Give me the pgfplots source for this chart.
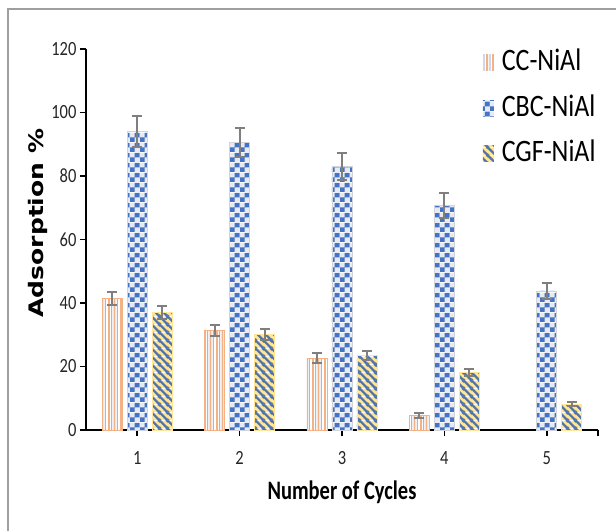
\documentclass[border=0pt]{standalone}
\usepackage{fontspec}
\setmainfont{Carlito}
\newfontfamily\dejavu{DejaVu Sans}
\usepackage{graphicx}
\usepackage{pgfplots}
\pgfplotsset{compat=1.18}
\usetikzlibrary{patterns}
\definecolor{ccor}{HTML}{F4B183}
\definecolor{ccbl}{HTML}{7096D8}
\definecolor{chkblue}{HTML}{4472C4}
\definecolor{chklight}{HTML}{E6EAF2}
\definecolor{cgfy}{HTML}{FFE699}
\definecolor{cgfol}{HTML}{8C8A5E}
\definecolor{errgray}{HTML}{7F7F7F}
\pgfdeclarepatterninherentlycolored{ccstripes}{\pgfpointorigin}{\pgfpoint{12pt}{600pt}}{\pgfpoint{12pt}{600pt}}{%
 \pgfsetfillcolor{white}\pgfpathrectangle{\pgfpointorigin}{\pgfpoint{12pt}{600pt}}\pgfusepath{fill}%
 \pgfsetfillcolor{ccor}\pgfpathrectangle{\pgfpointorigin}{\pgfpoint{2pt}{600pt}}\pgfpathrectangle{\pgfpoint{6pt}{0pt}}{\pgfpoint{2pt}{600pt}}\pgfusepath{fill}%
 \pgfsetfillcolor{ccbl}\pgfpathrectangle{\pgfpoint{3.6pt}{0pt}}{\pgfpoint{0.8pt}{600pt}}\pgfpathrectangle{\pgfpoint{9.6pt}{0pt}}{\pgfpoint{0.8pt}{600pt}}\pgfusepath{fill}%
}
\pgfdeclarepatterninherentlycolored{checks}{\pgfpointorigin}{\pgfpoint{10pt}{10pt}}{\pgfpoint{10pt}{10pt}}{%
 \pgfsetfillcolor{chklight}\pgfpathrectangle{\pgfpointorigin}{\pgfpoint{10pt}{10pt}}\pgfusepath{fill}%
 \pgfsetfillcolor{chkblue}\pgfpathrectangle{\pgfpointorigin}{\pgfpoint{5pt}{5pt}}\pgfpathrectangle{\pgfpoint{5pt}{5pt}}{\pgfpoint{5pt}{5pt}}\pgfusepath{fill}%
}
\pgfdeclarepatterninherentlycolored{diagst}{\pgfpointorigin}{\pgfpoint{8pt}{8pt}}{\pgfpoint{8pt}{8pt}}{%
 \pgfsetfillcolor{cgfy}\pgfpathrectangle{\pgfpointorigin}{\pgfpoint{8pt}{8pt}}\pgfusepath{fill}%
 \pgfsetlinewidth{2.6pt}\pgfsetstrokecolor{cgfol}%
 \pgfpathmoveto{\pgfpoint{-1pt}{9pt}}\pgfpathlineto{\pgfpoint{9pt}{-1pt}}%
 \pgfpathmoveto{\pgfpoint{-1pt}{1pt}}\pgfpathlineto{\pgfpoint{1pt}{-1pt}}%
 \pgfpathmoveto{\pgfpoint{7pt}{9pt}}\pgfpathlineto{\pgfpoint{9pt}{7pt}}%
 \pgfusepath{stroke}%
 \pgfsetlinewidth{1.5pt}\pgfsetstrokecolor{chkblue}%
 \pgfpathmoveto{\pgfpoint{-1pt}{9pt}}\pgfpathlineto{\pgfpoint{9pt}{-1pt}}%
 \pgfpathmoveto{\pgfpoint{-1pt}{1pt}}\pgfpathlineto{\pgfpoint{1pt}{-1pt}}%
 \pgfpathmoveto{\pgfpoint{7pt}{9pt}}\pgfpathlineto{\pgfpoint{9pt}{7pt}}%
 \pgfusepath{stroke}%
}
\pgfplotstableread{
x y e
1 41.5 2.0
2 31.3 1.7
3 22.6 1.5
4 4.6 0.7
}\cc
\pgfplotstableread{
x y e
1 94.0 5.0
2 90.5 4.5
3 83.0 4.3
4 70.7 3.8
5 43.8 2.5
}\cbc
\pgfplotstableread{
x y e
1 37.1 2.0
2 30.0 1.8
3 23.4 1.4
4 18.0 1.1
5 8.1 0.6
}\cgf
\begin{document}
\begin{tikzpicture}
\useasboundingbox (0,0) rectangle (616pt,531pt);
\fill[white] (0,0) rectangle (616pt,531pt);
\draw[gray!75, line width=1.5pt] (616pt,522pt) -- (8pt,522pt) -- (8pt,0pt);
\begin{axis}[
  at={(86pt,101pt)}, anchor=south west,
  scale only axis, width=512pt, height=381pt,
  xmin=0.5, xmax=5.5, ymin=0, ymax=120,
  ybar=5pt, bar width=20pt,
  axis x line=bottom, axis y line=left,
  axis line style={-, line width=2pt, black},
  xtick={1,2,3,4,5}, ytick={0,20,40,60,80,100,120},
  extra x ticks={5.5}, extra x tick labels={},
  tick align=outside, major tick length=6pt,
  tick style={black, line width=1.5pt},
  /pgf/number format/assume math mode=true,
  ticklabel style={font=\fontsize{16.5}{17}\selectfont, text=black!85, yscale=1.22},
  xticklabel style={yshift=-9pt},
  xlabel={\scalebox{1}[1.3]{Number of Cycles}},
  xlabel style={font=\bfseries\fontsize{20.5}{21}\selectfont, at={(axis description cs:0.5,0)}, anchor=center, yshift=-62pt},
  ylabel={\scalebox{1.25}[1]{Adsorption \%}},
  ylabel style={font=\dejavu\bfseries\fontsize{20}{20}\selectfont, at={(axis description cs:-0.094,0.543)}, anchor=center},
  legend image code/.code={\path[#1,draw=none] (0pt,0pt) rectangle (11pt,16pt);},
  legend style={at={(axis description cs:0.775,1.0)}, anchor=north west, draw=none, fill=none,
    inner sep=0pt, outer sep=0pt, font=\fontsize{26}{26}\selectfont, row sep=24pt,
    /tikz/column sep=8pt, nodes={inner sep=0pt, text depth=0pt, anchor=base west}},
  legend cell align=left,
  error bars/error bar style={errgray, line width=2pt},
]
\addplot[pattern=ccstripes, draw=ccor, line width=0.8pt,
  error bars/.cd, y dir=both, y explicit, error mark options={rotate=90, errgray, mark size=5pt, line width=2pt}]
  table[x=x, y=y, y error=e] {\cc};
\addplot[pattern=checks, draw=chklight!80!gray, line width=0.8pt,
  error bars/.cd, y dir=both, y explicit, error mark options={rotate=90, errgray, mark size=5pt, line width=2pt}]
  table[x=x, y=y, y error=e] {\cbc};
\addplot[pattern=diagst, draw=cgfy, line width=0.8pt,
  error bars/.cd, y dir=both, y explicit, error mark options={rotate=90, errgray, mark size=5pt, line width=2pt}]
  table[x=x, y=y, y error=e] {\cgf};
\legend{\scalebox{1}[1.2]{CC-NiAl}, \scalebox{1}[1.2]{CBC-NiAl}, \scalebox{1}[1.2]{CGF-NiAl}}
\end{axis}
\end{tikzpicture}
\end{document}
